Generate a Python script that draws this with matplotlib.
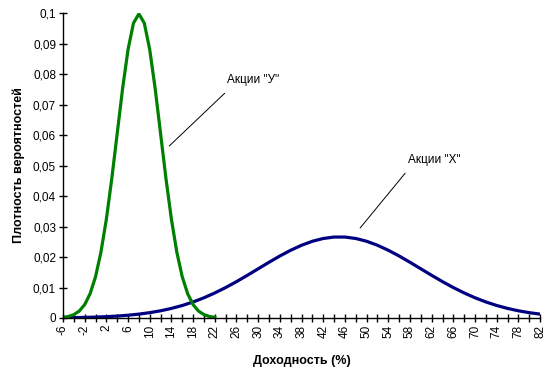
import matplotlib.pyplot as plt
from matplotlib.ticker import FuncFormatter

plt.rcParams['font.family'] = ['Liberation Sans', 'DejaVu Sans']

# Акции "У" (шаг 1)
y_x = list(range(-6, 23))
y_vals = [0.00022, 0.00051, 0.00111, 0.00227, 0.00438, 0.00794, 0.01350, 0.02157,
          0.03238, 0.04566, 0.06049, 0.07529, 0.08802, 0.09667, 0.09974, 0.09667,
          0.08802, 0.07529, 0.06049, 0.04566, 0.03238, 0.02157, 0.01350, 0.00794,
          0.00438, 0.00227, 0.00111, 0.00051, 0.00022]

# Акции "Х" (шаг 2)
x_x = list(range(-6, 83, 2))
x_vals = [0.00008, 0.00013, 0.00020, 0.00030, 0.00044, 0.00063, 0.00091, 0.00127,
          0.00175, 0.00236, 0.00314, 0.00410, 0.00526, 0.00663, 0.00821, 0.00998,
          0.01192, 0.01399, 0.01613, 0.01827, 0.02033, 0.02221, 0.02385, 0.02516,
          0.02607, 0.02654, 0.02654, 0.02607, 0.02516, 0.02385, 0.02221, 0.02033,
          0.01827, 0.01613, 0.01399, 0.01192, 0.00998, 0.00821, 0.00663, 0.00526,
          0.00410, 0.00314, 0.00236, 0.00175, 0.00127]

x_ticks = list(range(-6, 83, 2))

fig = plt.figure(figsize=(5.5, 3.77), dpi=100)
ax = fig.add_axes([0.1145, 0.1565, 0.8675, 0.809])

ax.plot(x_x, x_vals, color='#000080', lw=2.3)
ax.plot(y_x, y_vals, color='#008000', lw=2.3)

ax.set_xlim(-6, 82)
ax.set_ylim(0, 0.1)
ax.set_yticks([i / 100 for i in range(11)])
ax.yaxis.set_major_formatter(FuncFormatter(
    lambda v, p: '0' if v == 0 else ('%g' % round(v, 2)).replace('.', ',')))
ax.set_xticks(x_ticks)
ax.set_xticklabels([str(t) if (t + 6) % 4 == 0 else '' for t in x_ticks],
                   rotation=90)

for s in ['top', 'right']:
    ax.spines[s].set_visible(False)
for s in ['left', 'bottom']:
    ax.spines[s].set_linewidth(1.0)
ax.tick_params(direction='inout', length=6, width=1, labelsize=8.5, pad=2)

ax.set_xlabel('Доходность (%)', fontsize=9, fontweight='bold', labelpad=12)
ax.set_ylabel('Плотность вероятностей', fontsize=9, fontweight='bold', labelpad=6)

ax.annotate('Акции "У"', xy=(13.6, 0.0564), xytext=(24.3, 0.078),
            fontsize=8.5, va='center', ha='left',
            arrowprops=dict(arrowstyle='-', color='black', lw=0.7,
                            shrinkA=0, shrinkB=0, relpos=(-0.05, -0.6)))
ax.annotate('Акции "Х"', xy=(48.8, 0.0295), xytext=(57.6, 0.0518),
            fontsize=8.5, va='center', ha='left',
            arrowprops=dict(arrowstyle='-', color='black', lw=0.7,
                            shrinkA=0, shrinkB=0, relpos=(-0.05, -0.6)))

fig.savefig('out.png', dpi=100)
